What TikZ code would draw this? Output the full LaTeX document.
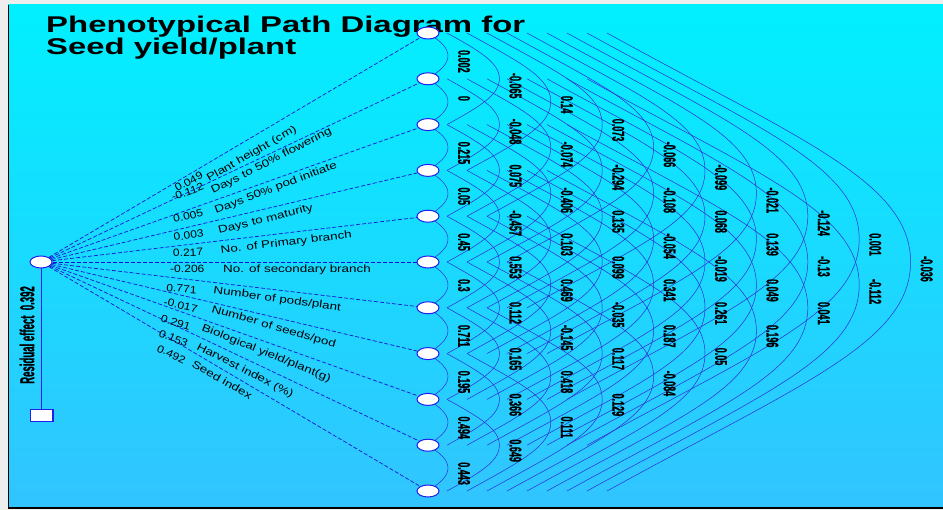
\documentclass[tikz,border=0pt]{standalone}
\usepackage{fontspec}
\setmainfont{Liberation Sans}
\newfontfamily\cfont[FakeBold=1.2]{Liberation Sans Bold}
\usetikzlibrary{shapes.geometric}
\definecolor{bgtop}{RGB}{0,240,255}
\definecolor{bgbot}{RGB}{50,196,255}
\definecolor{nodeblue}{RGB}{30,30,240}
\definecolor{lineblue}{RGB}{20,20,215}
\definecolor{arcblue}{RGB}{45,45,210}
\definecolor{margin}{RGB}{238,238,238}
\tikzset{
  trait/.style={ellipse, draw=nodeblue, fill=white, minimum width=22pt, minimum height=12pt, inner sep=0pt, line width=1pt},
  resbox/.style={rectangle, draw=nodeblue, fill=white, minimum width=22pt, minimum height=12pt, inner sep=0pt, line width=1pt},
  pathline/.style={draw=lineblue, line width=0.7pt, dash pattern=on 4pt off 2pt},
  arcline/.style={draw=arcblue, line width=0.5pt},
  corr/.style={anchor=west, rotate=-90, inner sep=0pt, font=\fontsize{17}{17}\selectfont\cfont},
  plab/.style={anchor=base west, inner sep=0pt, font=\fontsize{10.5}{10.5}\selectfont},
  ttl/.style={anchor=base west, inner sep=0pt, font=\bfseries}
}
\newcommand{\cnum}[1]{\scalebox{0.53}[1]{#1}}
\newcommand{\ptxt}[1]{\scalebox{1.28}[1]{#1}}
\newcommand{\pnum}[1]{\scalebox{1.15}[1]{#1}}
\begin{document}
\begin{tikzpicture}[x=1pt,y=-1pt]
\useasboundingbox (0,0) rectangle (943,510);
\fill[margin] (0,0) rectangle (943,510);
\shade[top color=bgtop, bottom color=bgbot] (8,5) rectangle (943,508);
\draw[black, line width=1.6pt] (8.5,5) -- (8.5,508) -- (943,508);

% title
\node[ttl] (t1) at (46,33) {\resizebox{479pt}{16.5pt}{Phenotypical Path Diagram for}};
\node[ttl] (t2) at (46,55) {\resizebox{250pt}{16.5pt}{Seed yield/plant}};

% correlation arcs
\foreach \k in {1,...,10}{
  \pgfmathsetmacro\xs{407+20*\k}
  \pgfmathsetmacro\xa{448+51.4*(\k-1)}
  \pgfmathsetmacro\dx{\xa-\xs}
  \pgfmathsetmacro\dy{22.9*\k}
  \pgfmathtruncatemacro\nn{11-\k}
  \foreach \i in {1,...,\nn}{
    \pgfmathsetmacro\yi{33+45.8*(\i-1)}
    \pgfmathsetmacro\yj{\yi+45.8*\k}
    \pgfmathsetmacro\ym{(\yi+\yj)/2}
    \draw[arcline] (\xs,\yi) .. controls ({\xs+0.635*\dx},{\yi+0.35*\dx}) and (\xa,{\ym-0.35*\dy}) .. (\xa,\ym)
      .. controls (\xa,{\ym+0.35*\dy}) and ({\xs+0.635*\dx},{\yj-0.35*\dx}) .. (\xs,\yj);
  }
}

% trait nodes
\foreach \i in {1,...,11}{
  \node[trait] (n\i) at (428,{33+45.8*(\i-1)}) {};
}
\node[trait] (src) at (41,262) {};
\node[resbox] (res) at (41,416) {};
\draw[nodeblue, line width=2pt] (res.north east) -- (res.south east);
\draw[nodeblue, line width=1pt] (src) -- (res);
\node[inner sep=0pt, rotate=90, font=\fontsize{20}{20}\selectfont\cfont] (reslab) at (27,335) {\scalebox{0.48}[1]{Residual effect\ \ 0.392}};

% path lines
\foreach \i in {1,...,11}{
  \draw[pathline] (src) -- (n\i);
}

% path labels
\node[plab, rotate=28] (v1) at (177,192) {\pnum{0.049}};
\node[plab, rotate=30] (l1) at (209,182) {\ptxt{Plant height (cm)}};
\node[plab, rotate=20] (v2) at (173,201) {\pnum{-0.112}};
\node[plab, rotate=27] (l2) at (213,194) {\ptxt{Days to 50\% flowering}};
\node[plab, rotate=13] (v3) at (174,223) {\pnum{0.005}};
\node[plab, rotate=21] (l3) at (216,214) {\ptxt{Days 50\% pod initiate}};
\node[plab, rotate=8] (v4) at (174,241) {\pnum{0.003}};
\node[plab, rotate=14] (l4) at (219,234) {\ptxt{Days to maturity}};
\node[plab, rotate=3] (v5) at (173,257) {\pnum{0.217}};
\node[plab, rotate=7] (l5) at (221,254) {\ptxt{No. of Primary branch}};
\node[plab] (v6) at (170,273) {\pnum{-0.206}};
\node[plab] (l6) at (223,273) {\ptxt{No. of secondary branch}};
\node[plab, rotate=-5] (v7) at (166,291) {\pnum{0.771}};
\node[plab, rotate=-8] (l7) at (213,293) {\ptxt{Number of pods/plant}};
\node[plab, rotate=-13] (v8) at (163,305) {\pnum{-0.017}};
\node[plab, rotate=-16] (l8) at (211,312) {\ptxt{Number of seeds/pod}};
\node[plab, rotate=-18] (v9) at (160,321) {\pnum{0.291}};
\node[plab, rotate=-22] (l9) at (201,330) {\ptxt{Biological yield/plant(g)}};
\node[plab, rotate=-22] (v10) at (158,336) {\pnum{0.153}};
\node[plab, rotate=-27] (l10) at (196,349) {\ptxt{Harvest index (\%)}};
\node[plab, rotate=-25] (v11) at (156,351) {\pnum{0.492}};
\node[plab, rotate=-30] (l11) at (191,366) {\ptxt{Seed index}};

% correlation values
\foreach \k/\i/\v in {
  1/1/0.002, 1/2/0, 1/3/0.215, 1/4/0.05, 1/5/0.45, 1/6/0.3, 1/7/0.711, 1/8/0.195, 1/9/0.494, 1/10/0.443,
  2/1/-0.065, 2/2/-0.048, 2/3/0.075, 2/4/-0.457, 2/5/0.553, 2/6/0.112, 2/7/0.165, 2/8/0.366, 2/9/0.649,
  3/1/0.14, 3/2/-0.074, 3/3/-0.406, 3/4/0.103, 3/5/0.469, 3/6/-0.145, 3/7/0.418, 3/8/0.111,
  4/1/0.073, 4/2/-0.294, 4/3/0.135, 4/4/0.099, 4/5/-0.035, 4/6/0.117, 4/7/0.129,
  5/1/-0.066, 5/2/-0.108, 5/3/-0.054, 5/4/0.341, 5/5/0.187, 5/6/-0.084,
  6/1/-0.099, 6/2/0.068, 6/3/-0.019, 6/4/0.261, 6/5/0.05,
  7/1/-0.021, 7/2/0.139, 7/3/0.049, 7/4/0.196,
  8/1/-0.124, 8/2/-0.13, 8/3/0.041,
  9/1/0.001, 9/2/-0.112,
  10/1/-0.036}{
  \node[corr] (c\k-\i) at ({464+51.4*(\k-1)},{33+45.8*(\i-1)+22.9*\k-6}) {\cnum{\v}};
}
\end{tikzpicture}
\end{document}
